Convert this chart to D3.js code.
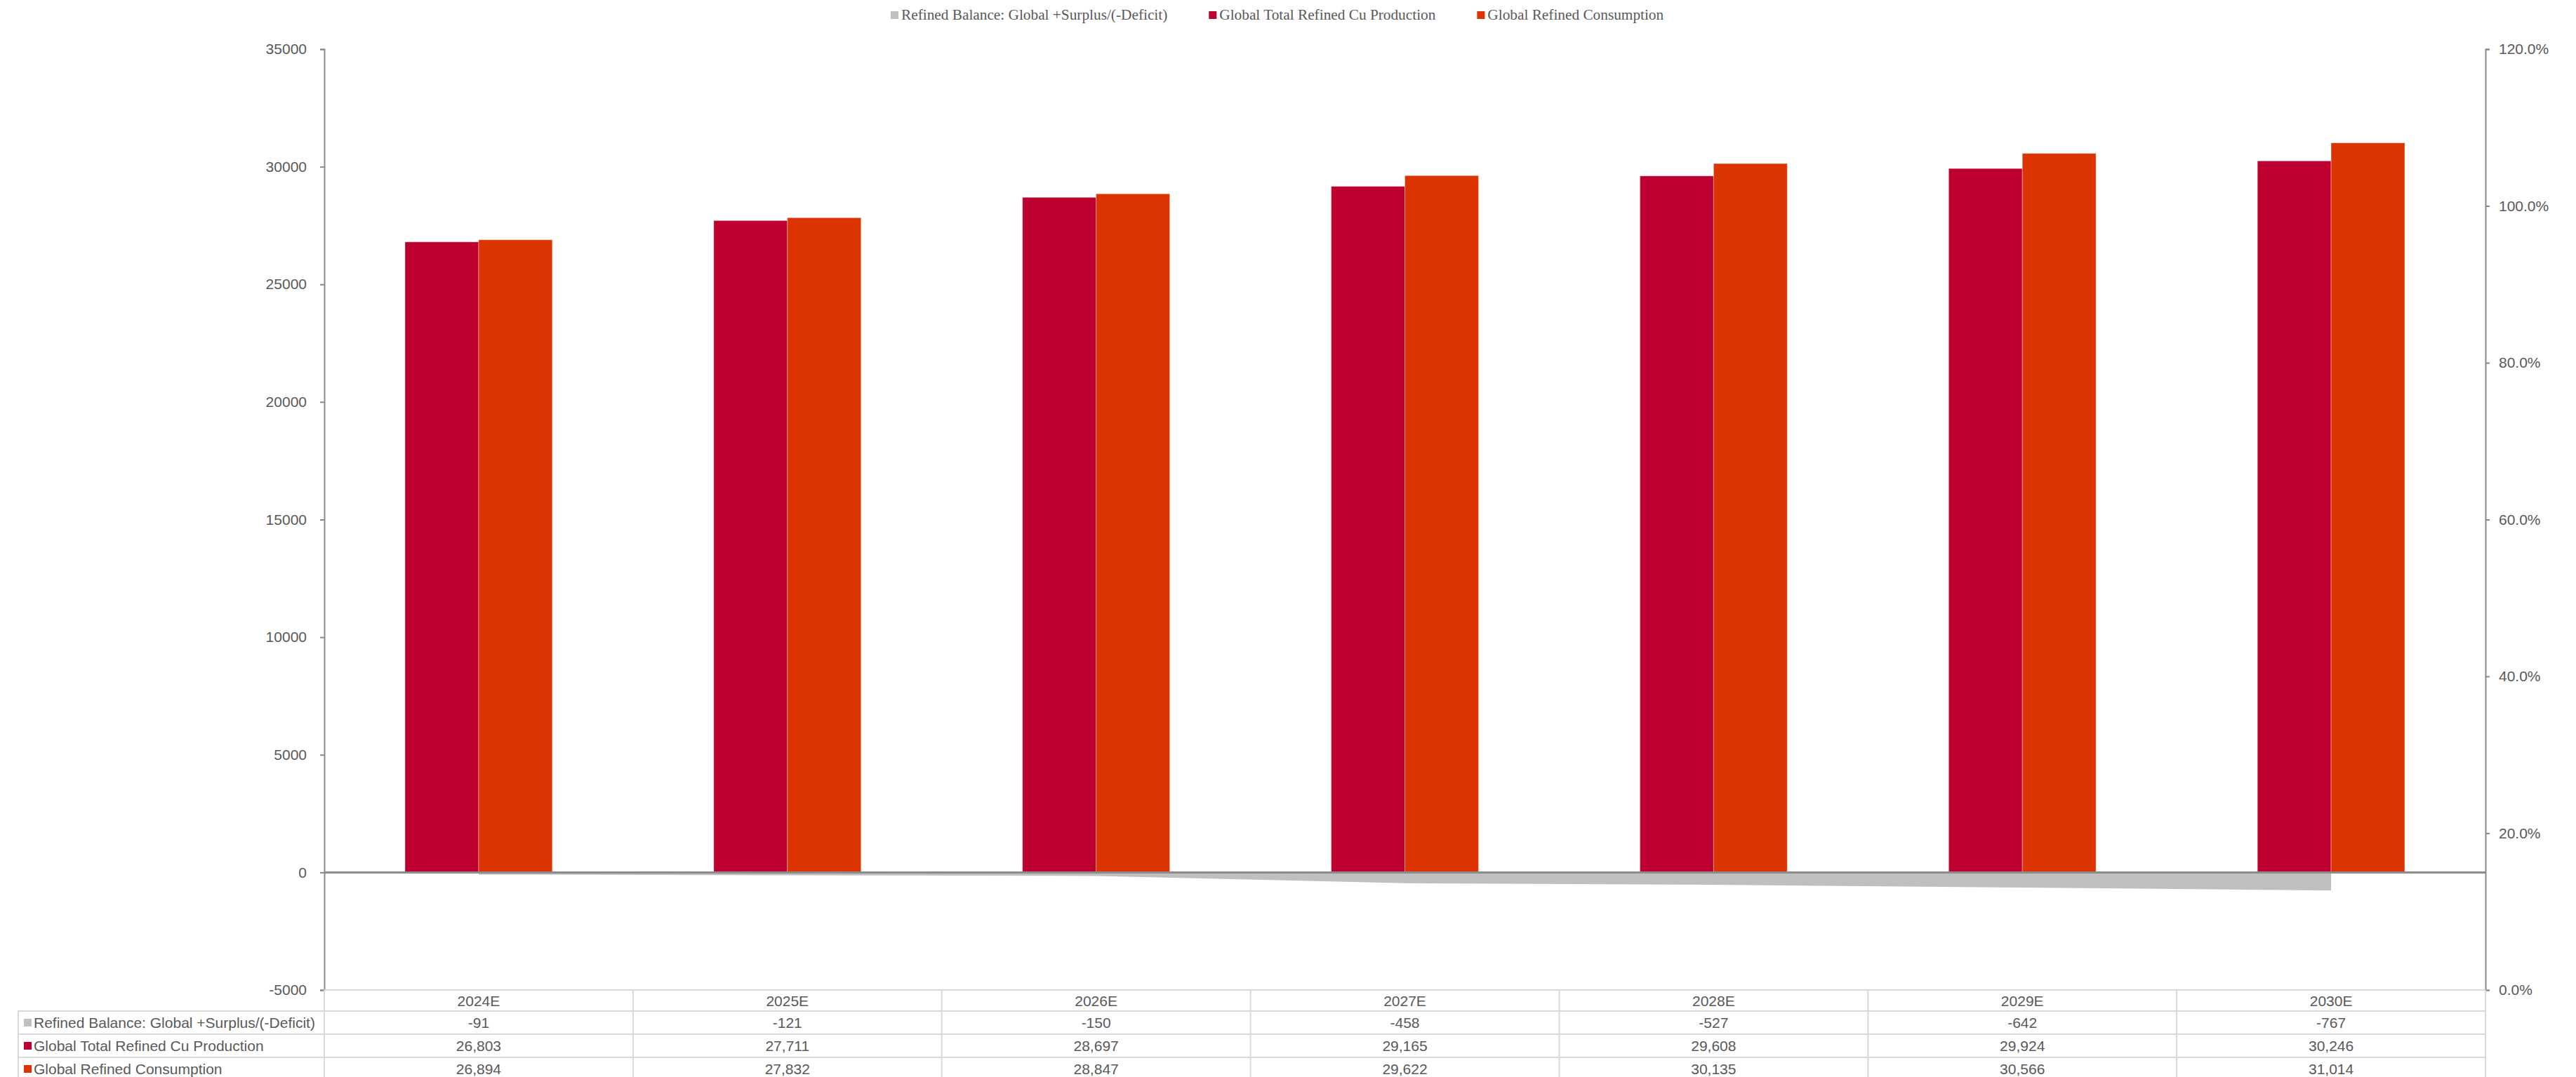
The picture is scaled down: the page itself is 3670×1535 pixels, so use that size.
<!DOCTYPE html>
<html>
<head>
<meta charset="utf-8">
<script src="https://cdn.jsdelivr.net/npm/d3@7"></script>
<style>
  html, body { margin: 0; padding: 0; background: #fff; }
  svg { display: block; }
  text { font-family: "Liberation Sans", Arial, sans-serif; fill: #595959; }
</style>
</head>
<body>
<script>
// Refined copper market balance, kt
const categories = ["2024E", "2025E", "2026E", "2027E", "2028E", "2029E", "2030E"];
const balance = [-91, -121, -150, -458, -527, -642, -767];
const production = [26803, 27711, 28697, 29165, 29608, 29924, 30246];
const consumption = [26894, 27832, 28847, 29622, 30135, 30566, 31014];
const seriesNames = [
  "Refined Balance: Global +Surplus/(-Deficit)",
  "Global Total Refined Cu Production",
  "Global Refined Consumption"
];
const seriesColors = ["#BFBFBF", "#BE0030", "#DC3400"];
const leftTicks = [-5000, 0, 5000, 10000, 15000, 20000, 25000, 30000, 35000];
const rightTicks = [0, 0.2, 0.4, 0.6, 0.8, 1.0, 1.2];

const W = 3670, H = 1535;
const plot = { left: 462, right: 3541, top: 70, bottom: 1411 };
const tableLeft = 26, rowH = 33, headerBottom = 1441;

// Plain hyphen for negatives
const locale = d3.formatLocale({ decimal: ".", thousands: ",", grouping: [3], currency: ["$", ""], minus: "-" });

const svg = d3.select("body").append("svg").attr("width", W).attr("height", H);

const x = d3.scaleBand().domain(categories)
  .range([plot.left, plot.right]).paddingInner(0.523).paddingOuter(0.2615);
const xs = d3.scaleBand().domain(["prod", "cons"]).range([0, x.bandwidth()]);
const y = d3.scaleLinear().domain([-5000, 35000]).range([plot.bottom, plot.top]);
const yr = d3.scaleLinear().domain([0, 1.2]).range([plot.bottom, plot.top]);
const xc = c => x(c) + x.bandwidth() / 2;

// Balance area (deficit below zero)
const area = d3.area()
  .x((d, i) => xc(categories[i]))
  .y0(y(0))
  .y1(d => y(d));
svg.append("path").datum(balance)
  .attr("d", area).attr("fill", seriesColors[0]);

// Production / consumption bars
const barSeries = [
  { key: "prod", values: production, color: seriesColors[1] },
  { key: "cons", values: consumption, color: seriesColors[2] }
];
barSeries.forEach(s => {
  svg.append("g").selectAll("rect").data(s.values).join("rect")
    .attr("x", (d, i) => x(categories[i]) + xs(s.key))
    .attr("width", xs.bandwidth())
    .attr("y", d => y(d))
    .attr("height", d => y(0) - y(d))
    .attr("fill", s.color)
    .attr("stroke", "rgba(255,255,255,0.35)")
    .attr("stroke-width", 1);
});

// Left value axis
const gl = svg.append("g").attr("transform", `translate(${plot.left},0)`)
  .call(d3.axisLeft(y).tickValues(leftTicks).tickFormat(locale.format("d"))
    .tickSize(6).tickPadding(19));
gl.select(".domain").attr("stroke", "#898989").attr("stroke-width", 2);
gl.selectAll(".tick line").attr("stroke", "#898989").attr("stroke-width", 2);
gl.selectAll(".tick text").attr("font-size", 21).style("fill", "#595959")
  .attr("font-family", "Liberation Sans, Arial, sans-serif");

// Right percent axis
const gr = svg.append("g").attr("transform", `translate(${plot.right},0)`)
  .call(d3.axisRight(yr).tickValues(rightTicks).tickFormat(locale.format(".1%"))
    .tickSize(6).tickPadding(13));
gr.select(".domain").attr("stroke", "#898989").attr("stroke-width", 2);
gr.selectAll(".tick line").attr("stroke", "#898989").attr("stroke-width", 2);
gr.selectAll(".tick text").attr("font-size", 21).style("fill", "#595959")
  .attr("font-family", "Liberation Sans, Arial, sans-serif");

// Zero baseline
svg.append("line")
  .attr("x1", plot.left).attr("x2", plot.right)
  .attr("y1", y(0)).attr("y2", y(0))
  .attr("stroke", "#8C8C8C").attr("stroke-width", 3);

// Data table grid
const grid = svg.append("g").attr("stroke", "#D9D9D9").attr("stroke-width", 2);
const tableBottom = headerBottom + rowH * 3;
grid.append("line").attr("x1", plot.left).attr("x2", plot.right)
  .attr("y1", plot.bottom).attr("y2", plot.bottom);
for (let r = 0; r <= 3; r++) {
  const yy = headerBottom + r * rowH;
  grid.append("line").attr("x1", tableLeft).attr("x2", plot.right)
    .attr("y1", yy).attr("y2", yy);
}
grid.append("line").attr("x1", tableLeft).attr("x2", tableLeft)
  .attr("y1", headerBottom).attr("y2", tableBottom);
const step = x.step();
for (let k = 0; k <= categories.length; k++) {
  const xx = plot.left + k * step;
  grid.append("line").attr("x1", xx).attr("x2", xx)
    .attr("y1", plot.bottom).attr("y2", tableBottom);
}

// Category labels
svg.append("g").selectAll("text").data(categories).join("text")
  .attr("x", d => xc(d)).attr("y", plot.bottom + 23)
  .attr("text-anchor", "middle").attr("font-size", 21).text(d => d);

// Table rows
const fmt = locale.format(",");
const rows = [balance, production, consumption];
rows.forEach((vals, r) => {
  const top = headerBottom + r * rowH;
  svg.append("rect").attr("x", 34).attr("y", top + 11).attr("width", 11).attr("height", 11)
    .attr("fill", seriesColors[r]);
  svg.append("text").attr("x", 48).attr("y", top + 24).attr("font-size", 21)
    .text(seriesNames[r]);
  svg.append("g").selectAll("text").data(vals).join("text")
    .attr("x", (d, i) => xc(categories[i])).attr("y", top + 24)
    .attr("text-anchor", "middle").attr("font-size", 21)
    .text(d => fmt(d));
});

// Legend
const legend = svg.append("g");
let lx = 1269;
seriesNames.forEach((name, i) => {
  legend.append("rect").attr("x", lx).attr("y", 16).attr("width", 11).attr("height", 11)
    .attr("fill", seriesColors[i]);
  const t = legend.append("text").attr("x", lx + 15).attr("y", 28)
    .attr("font-size", 21.3)
    .style("font-family", "'Liberation Serif', 'Times New Roman', serif")
    .text(name);
  lx += 15 + t.node().getComputedTextLength() + 59;
});
</script>
</body>
</html>
